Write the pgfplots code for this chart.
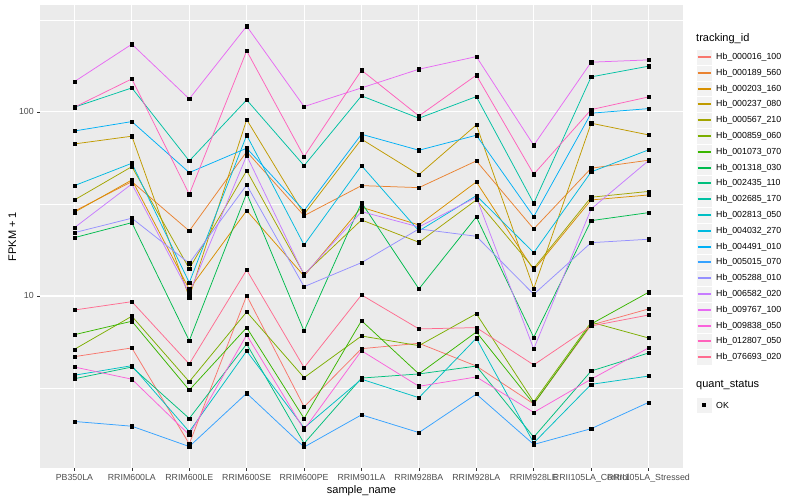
\documentclass[border=0pt]{standalone}
\usepackage{fontspec}
\setmainfont{Liberation Sans}
\usepackage{pgfplots}
\usepackage{pgfplotstable}
\pgfplotsset{compat=1.18}

\definecolor{gray92}{HTML}{EBEBEB}
\definecolor{gray95}{HTML}{F2F2F2}
\definecolor{gray30}{HTML}{4D4D4D}
\definecolor{gray20}{HTML}{333333}
% ggplot hue palette, 20 levels
\definecolor{c1}{HTML}{F8766D}
\definecolor{c2}{HTML}{EA8331}
\definecolor{c3}{HTML}{D89000}
\definecolor{c4}{HTML}{C09B00}
\definecolor{c5}{HTML}{A3A500}
\definecolor{c6}{HTML}{7CAE00}
\definecolor{c7}{HTML}{39B600}
\definecolor{c8}{HTML}{00BB4E}
\definecolor{c9}{HTML}{00BF7D}
\definecolor{c10}{HTML}{00C1A3}
\definecolor{c11}{HTML}{00BFC4}
\definecolor{c12}{HTML}{00BAE0}
\definecolor{c13}{HTML}{00B0F6}
\definecolor{c14}{HTML}{35A2FF}
\definecolor{c15}{HTML}{9590FF}
\definecolor{c16}{HTML}{C77CFF}
\definecolor{c17}{HTML}{E76BF3}
\definecolor{c18}{HTML}{FA62DB}
\definecolor{c19}{HTML}{FF62BC}
\definecolor{c20}{HTML}{FF6C90}

% FPKM + 1 per sample (c = sample index), one column per tracking_id
\pgfplotstableread{
c  s1    s2    s3    s4    s5    s6   s7    s8    s9   s10   s11  s12   s13   s14  s15   s16   s17   s18  s19   s20
0  4.68  28.9  28.5  67.0  33.24 5.13 6.16  20.74 3.55 106.1 3.71 39.77 78.8  2.08 22.08 23.5  146.1 4.11 106.1 8.39
1  5.22  41.8  42.7  73.8  50.43 7.76 7.29  25.02 4.11 135.0 4.18 52.6  88.6  1.96 26.45 40.6  233.3 3.53 151.1 9.31
2  1.57  22.56 10.87 9.84  14.07 3.42 3.08  5.71  2.16 54.17 1.83 11.81 46.8  1.52 15.06 10.34 117.7 1.76 35.7  4.27
3  10.04 60.8  29.08 90.8  47.97 8.19 6.73  36.16 5.48 116.2 5.02 74.7  63.5  2.96 40.1  57.9  292.2 6.14 214.6 13.84
4  2.50  27.3  12.84 27.8  13.12 3.60 2.16  6.45  1.58 51.07 1.92 18.93 29.08 1.51 11.23 13.0  106.9 1.88 57.2  4.08
5  5.17  39.77 30.34 71.1  25.88 6.06 7.34  32.14 3.58 122.2 3.53 51.07 75.6  2.26 15.17 28.72 135.0 5.04 168.5 10.13
6  5.53  38.78 24.31 45.6  19.57 5.37 3.77  10.92 3.77 92.4  2.80 22.56 61.9  1.81 23.13 23.71 170.6 3.23 95.1  6.62
7  4.16  54.17 41.65 85.0  33.24 8.01 6.37  26.88 4.16 121.1 5.89 35.09 74.7  2.93 21.1  34.39 199.8 3.63 158.3 6.73
8  2.59  23.13 13.84 10.96 14.14 2.66 2.59  5.96  1.71 31.9  1.59 17.19 26.98 1.56 10.21 5.15  65.9  2.33 45.86 4.22
9  6.95  49.43 33.24 86.8  34.39 7.20 7.04  25.66 3.91 155.0 3.31 47.2  98.4  1.90 19.48 29.7  186.3 3.53 102.9 6.87
10 8.50  54.64 35.39 75.0  36.98 5.91 10.47 28.36 4.90 177.2 3.67 62.2  104.2 2.64 20.33 54.37 191.7 5.22 120.6 7.88
}\data

\begin{document}
\begin{tikzpicture}[x=1pt,y=1pt]
\useasboundingbox (0,0) rectangle (800,500);
\fill[white] (0,0) rectangle (800,500);
\begin{axis}[
    at={(40pt,32pt)}, anchor=south west,
    width=643pt, height=463pt, scale only axis,
    ymode=log,
    xmin=-0.6, xmax=10.6,
    ymin=1.162, ymax=381,
    xtick={0,...,10},
    xticklabels={PB350LA,RRIM600LA,RRIM600LE,RRIM600SE,RRIM600PE,RRIM901LA,RRIM928BA,RRIM928LA,RRIM928LE,RRII105LA\_Control,RRII105LA\_Stressed},
    ytick={10,100}, yticklabels={10,100},
    minor ytick={3.1623,31.623,316.23},
    xmajorgrids, ymajorgrids, yminorgrids,
    major grid style={white, line width=1.1pt},
    minor grid style={white, line width=0.55pt},
    axis background/.style={fill=gray92},
    axis line style={draw=none},
    tick pos=left, tick align=outside,
    major tick length=2.75pt, minor tick length=0pt,
    tick style={gray20, line width=0.55pt},
    ticklabel style={font=\fontsize{8.8}{10}\selectfont, text=gray30},
    xlabel={sample\_name}, ylabel={FPKM + 1},
    label style={font=\fontsize{11}{13}\selectfont},
    xlabel style={yshift=4pt},
    ylabel style={yshift=-4pt},
]
\pgfplotsinvokeforeach{1,...,20}{
  \addplot[color=c#1, line width=0.75pt, mark=none] table[x=c, y=s#1]{\data};
}
\pgfplotsinvokeforeach{1,...,20}{
  \addplot[draw=none, mark=square*, mark size=1.6pt, mark options={black, fill=black}] table[x=c, y=s#1]{\data};
}
\end{axis}

% legend, tracking_id
\node[anchor=west, font=\fontsize{11}{13}\selectfont, inner sep=0pt] at (696,461) {tracking\_id};
\foreach \n/\col [count=\i from 0] in {Hb\_000016\_100/c1, Hb\_000189\_560/c2, Hb\_000203\_160/c3, Hb\_000237\_080/c4, Hb\_000567\_210/c5, Hb\_000859\_060/c6, Hb\_001073\_070/c7, Hb\_001318\_030/c8, Hb\_002435\_110/c9, Hb\_002685\_170/c10, Hb\_002813\_050/c11, Hb\_004032\_270/c12, Hb\_004491\_010/c13, Hb\_005015\_070/c14, Hb\_005288\_010/c15, Hb\_006582\_020/c16, Hb\_009767\_100/c17, Hb\_009838\_050/c18, Hb\_012807\_050/c19, Hb\_076693\_020/c20} {
  \pgfmathsetmacro\yy{round(443-15.8*\i)}
  \filldraw[fill=gray95, draw=white, line width=0.5pt] (696,\yy-7.9) rectangle (712,\yy+7.9);
  \draw[draw=\col, line width=1.6pt] (697.5,\yy) -- (710.5,\yy);
  \node[anchor=west, font=\fontsize{8.8}{10}\selectfont, inner sep=0pt] at (716,\yy) {\n};
}
% legend, quant_status
\node[anchor=west, font=\fontsize{11}{13}\selectfont, inner sep=0pt] at (696,115) {quant\_status};
\filldraw[fill=gray95, draw=white, line width=0.5pt] (696,87.1) rectangle (712,102.9);
\fill[black] (702,93) rectangle (706,97);
\node[anchor=west, font=\fontsize{8.8}{10}\selectfont, inner sep=0pt] at (716,95) {OK};
\end{tikzpicture}
\end{document}
